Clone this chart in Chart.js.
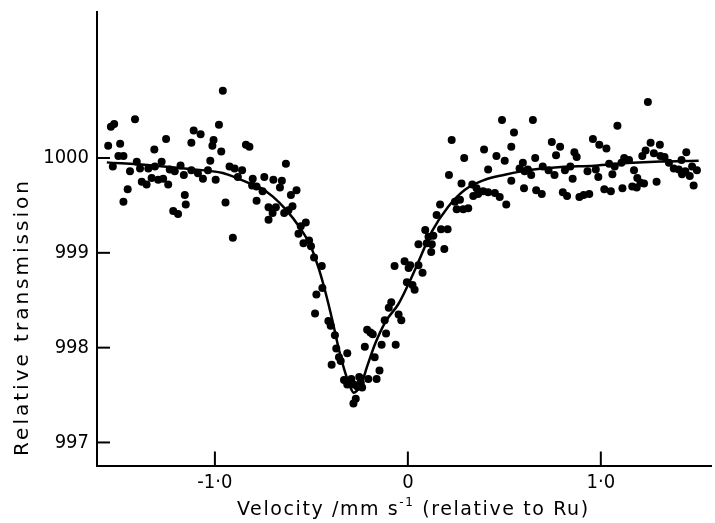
<!DOCTYPE html>
<html>
<head>
<meta charset="utf-8">
<script src="https://cdn.jsdelivr.net/npm/chart.js@4.4.1/dist/chart.umd.min.js"></script>
<style>
  html, body { margin: 0; padding: 0; background: #fff; }
  #wrap { width: 715px; height: 523px; }
</style>
</head>
<body>
<div id="wrap"><canvas id="chart" width="715" height="523"></canvas></div>
<script>
// measured points: [velocity mm/s, relative transmission]
var measured = [
  [-1.553, 1000.13], [-1.539, 1000.33], [-1.522, 1000.36], [-1.529, 999.91], [-1.500, 1000.02],
  [-1.474, 1000.02], [-1.491, 1000.15], [-1.452, 999.67], [-1.474, 999.54], [-1.440, 999.86],
  [-1.414, 1000.41], [-1.405, 999.96], [-1.388, 999.89], [-1.379, 999.75], [-1.354, 999.72],
  [-1.345, 999.89], [-1.328, 999.79], [-1.314, 1000.09], [-1.311, 999.91], [-1.294, 999.77],
  [-1.276, 999.96], [-1.268, 999.78], [-1.253, 1000.20], [-1.242, 999.72], [-1.234, 999.88],
  [-1.216, 999.44], [-1.208, 999.86], [-1.191, 999.41], [-1.178, 999.92], [-1.161, 999.82],
  [-1.156, 999.61], [-1.151, 999.51], [-1.122, 1000.16], [-1.122, 999.87], [-1.110, 1000.29],
  [-1.088, 999.84], [-1.074, 1000.25], [-1.062, 999.78], [-1.036, 999.87], [-1.024, 999.97],
  [-1.013, 1000.13], [-1.007, 1000.19], [-0.996, 999.77], [-0.979, 1000.35], [-0.967, 1000.07],
  [-0.959, 1000.71], [-0.945, 999.53], [-0.924, 999.91], [-0.907, 999.16], [-0.898, 999.89],
  [-0.881, 999.80], [-0.859, 999.87], [-0.839, 1000.14], [-0.821, 1000.12], [-0.632, 999.94],
  [-0.804, 999.78], [-0.807, 999.71], [-0.744, 999.80], [-0.697, 999.77], [-0.653, 999.76],
  [-0.663, 999.69], [-0.784, 999.70], [-0.753, 999.65], [-0.577, 999.66], [-0.606, 999.61],
  [-0.784, 999.55], [-0.722, 999.48], [-0.684, 999.48], [-0.701, 999.42], [-0.722, 999.35],
  [-0.598, 999.49], [-0.619, 999.45], [-0.641, 999.42], [-0.529, 999.32], [-0.555, 999.28],
  [-0.567, 999.20], [-0.512, 999.13], [-0.541, 999.10], [-0.502, 999.07], [-0.486, 998.95],
  [-0.446, 998.86], [-0.443, 998.63], [-0.474, 998.56], [-0.481, 998.36], [-0.412, 998.28],
  [-0.400, 998.23], [-0.378, 998.13], [-0.371, 997.99], [-0.357, 997.90], [-0.348, 997.86],
  [-0.314, 997.94], [-0.395, 997.82], [-0.331, 997.66], [-0.306, 997.64], [-0.293, 997.67],
  [-0.314, 997.61], [-0.280, 997.61], [-0.252, 997.69], [-0.244, 997.63], [-0.262, 997.59],
  [-0.237, 997.58], [-0.205, 997.67], [-0.162, 997.67], [-0.270, 997.46], [-0.282, 997.41],
  [-0.147, 997.76], [-0.172, 997.90], [-0.223, 998.01], [-0.136, 998.03], [-0.063, 998.03],
  [-0.211, 998.19], [-0.194, 998.16], [-0.182, 998.14], [-0.113, 998.15], [-0.120, 998.29],
  [-0.048, 998.35], [-0.034, 998.29], [-0.086, 998.48], [-0.099, 998.42], [-0.005, 998.69],
  [0.035, 998.61], [-0.069, 998.86], [-0.017, 998.91], [0.004, 998.84], [0.055, 999.09],
  [0.012, 998.87], [0.024, 998.66], [0.055, 998.87], [0.076, 998.79], [0.098, 999.10],
  [0.124, 999.09], [0.121, 999.01], [0.189, 999.04], [0.090, 999.24], [0.107, 999.17],
  [0.132, 999.18], [0.172, 999.25], [0.206, 999.25], [0.149, 999.40], [0.167, 999.51],
  [0.244, 999.54], [0.270, 999.56], [0.253, 999.46], [0.287, 999.46], [0.313, 999.47],
  [0.278, 999.73], [0.334, 999.72], [0.356, 999.68], [0.339, 999.60], [0.364, 999.62],
  [0.390, 999.65], [0.416, 999.64], [0.451, 999.63], [0.476, 999.59], [0.510, 999.51],
  [0.536, 999.76], [0.602, 999.68], [0.665, 999.66], [0.213, 999.82], [0.416, 999.88],
  [0.292, 1000.00], [0.459, 1000.02], [0.502, 999.97], [0.596, 999.95], [0.579, 999.89],
  [0.605, 999.86], [0.660, 1000.00], [0.395, 1000.09], [0.536, 1000.12], [0.227, 1000.19],
  [0.550, 1000.27], [0.488, 1000.40], [0.648, 1000.40], [1.244, 1000.59], [1.086, 1000.34],
  [0.746, 1000.17], [0.789, 1000.12], [0.959, 1000.20], [0.992, 1000.14], [1.029, 1000.10],
  [0.863, 1000.06], [0.875, 1000.01], [0.768, 1000.03], [1.258, 1000.16], [1.306, 1000.14],
  [1.232, 1000.08], [1.215, 1000.02], [1.275, 1000.05], [1.309, 1000.02], [1.330, 1000.01],
  [1.443, 1000.06], [1.418, 999.98], [1.121, 1000.00], [1.146, 999.98], [0.622, 999.88],
  [0.639, 999.82], [0.699, 999.91], [0.729, 999.87], [0.760, 999.82], [0.814, 999.87],
  [0.842, 999.91], [0.931, 999.86], [0.974, 999.88], [1.043, 999.94], [1.072, 999.91],
  [1.107, 999.95], [1.060, 999.83], [1.172, 999.87], [1.353, 999.95], [1.378, 999.89],
  [1.404, 999.88], [1.421, 999.83], [1.438, 999.86], [1.473, 999.91], [1.498, 999.87],
  [1.461, 999.81], [0.854, 999.78], [0.987, 999.80], [1.189, 999.79], [1.206, 999.74],
  [1.224, 999.73], [1.289, 999.75], [1.481, 999.71], [0.694, 999.62], [0.803, 999.64],
  [0.825, 999.60], [0.889, 999.59], [0.911, 999.61], [0.940, 999.62], [1.018, 999.67],
  [1.052, 999.65], [1.112, 999.68], [1.163, 999.70], [1.186, 999.69]
];

// fitted curve
var fitVel = [-1.560, -1.337, -1.130, -0.959, -0.873, -0.821, -0.770, -0.701, -0.632, -0.563,
  -0.503, -0.460, -0.426, -0.392, -0.357, -0.323, -0.297, -0.280, -0.264, -0.245,
  -0.211, -0.168, -0.116, -0.048, 0.004, 0.055, 0.124, 0.210, 0.296, 0.399,
  0.502, 0.588, 0.674, 0.794, 0.966, 1.138, 1.309, 1.507];
var fitTrans = [999.954, 999.924, 999.884, 999.842, 999.778, 999.734, 999.692, 999.595, 999.455, 999.275,
  999.068, 998.822, 998.576, 998.294, 997.978, 997.725, 997.577, 997.524, 997.545, 997.591,
  997.802, 998.049, 998.273, 998.463, 998.674, 998.906, 999.223, 999.489, 999.666, 999.771,
  999.824, 999.859, 999.884, 999.905, 999.919, 999.947, 999.964, 999.972];

var xTickValues = [-1, 0, 1];
var xTickLabels = ['-1·0', '0', '1·0'];
var yTickValues = [997, 998, 999, 1000];
var yTickLabels = ['997', '998', '999', '1000'];

var FONT = 'DejaVu Sans';

var pointData = measured.map(function (p) { return { x: p[0], y: p[1] }; });
var fitData = fitVel.map(function (v, i) { return { x: v, y: fitTrans[i] }; });

// inward tick marks and the axis titles
var axisExtras = {
  id: 'axisExtras',
  afterDraw: function (chart) {
    var ctx = chart.ctx;
    var xs = chart.scales.x, ys = chart.scales.y;
    var area = chart.chartArea;
    ctx.save();
    ctx.strokeStyle = '#000';
    ctx.lineWidth = 2;
    xTickValues.forEach(function (v) {
      var px = xs.getPixelForValue(v);
      ctx.beginPath();
      ctx.moveTo(px, area.bottom);
      ctx.lineTo(px, area.bottom - 14);
      ctx.stroke();
    });
    yTickValues.forEach(function (v) {
      var py = ys.getPixelForValue(v);
      ctx.beginPath();
      ctx.moveTo(area.left, py);
      ctx.lineTo(area.left + 13, py);
      ctx.stroke();
    });

    ctx.fillStyle = '#000';
    // y title
    ctx.save();
    ctx.translate(23, 317);
    ctx.rotate(-Math.PI / 2);
    ctx.font = '20px "' + FONT + '"';
    ctx.letterSpacing = '3px';
    ctx.textAlign = 'center';
    ctx.textBaseline = 'middle';
    ctx.fillText('Relative transmission', 0, 0);
    ctx.restore();

    // x title with superscript
    ctx.textAlign = 'left';
    ctx.textBaseline = 'alphabetic';
    ctx.letterSpacing = '1.6px';
    var x = 237, base = 515;
    ctx.font = '19px "' + FONT + '"';
    ctx.fillText('Velocity /mm s', x, base);
    x += ctx.measureText('Velocity /mm s').width;
    ctx.font = '12px "' + FONT + '"';
    ctx.fillText('-1', x, base - 9);
    x += ctx.measureText('-1').width;
    ctx.font = '19px "' + FONT + '"';
    ctx.fillText(' (relative to Ru)', x, base);
    ctx.restore();
  }
};

new Chart(document.getElementById('chart'), {
  type: 'scatter',
  data: {
    datasets: [
      {
        label: 'fit',
        data: fitData,
        showLine: true,
        borderColor: '#000',
        borderWidth: 2.5,
        pointRadius: 0,
        cubicInterpolationMode: 'monotone'
      },
      {
        label: 'measured',
        data: pointData,
        backgroundColor: '#000',
        borderColor: '#000',
        borderWidth: 0,
        pointRadius: 4
      }
    ]
  },
  options: {
    responsive: false,
    animation: false,
    devicePixelRatio: 1,
    layout: { padding: { top: 12, right: 1, left: 0, bottom: 0 } },
    plugins: { legend: { display: false }, tooltip: { enabled: false } },
    scales: {
      x: {
        type: 'linear',
        min: -1.611,
        max: 1.571,
        afterFit: function (s) { s.height = 57.5; s.paddingLeft = 0; s.paddingRight = 0; },
        afterBuildTicks: function (s) {
          s.ticks = xTickValues.map(function (v) { return { value: v }; });
        },
        grid: { display: false, drawTicks: false },
        border: { display: true, color: '#000', width: 2 },
        ticks: {
          padding: 5,
          color: '#000',
          maxRotation: 0,
          autoSkip: false,
          font: { family: FONT + ' Condensed', size: 20 },
          callback: function (v, i) { return xTickLabels[i]; }
        }
      },
      y: {
        type: 'linear',
        min: 996.757,
        max: 1001.54,
        afterFit: function (s) { s.width = 97; s.paddingTop = 0; s.paddingBottom = 0; },
        afterBuildTicks: function (s) {
          s.ticks = yTickValues.map(function (v) { return { value: v }; });
        },
        grid: { display: false, drawTicks: false },
        border: { display: true, color: '#000', width: 2 },
        ticks: {
          padding: 8,
          color: '#000',
          autoSkip: false,
          font: { family: FONT + ' Condensed', size: 20 },
          callback: function (v, i) { return yTickLabels[i]; }
        }
      }
    }
  },
  plugins: [axisExtras]
});
</script>
</body>
</html>
